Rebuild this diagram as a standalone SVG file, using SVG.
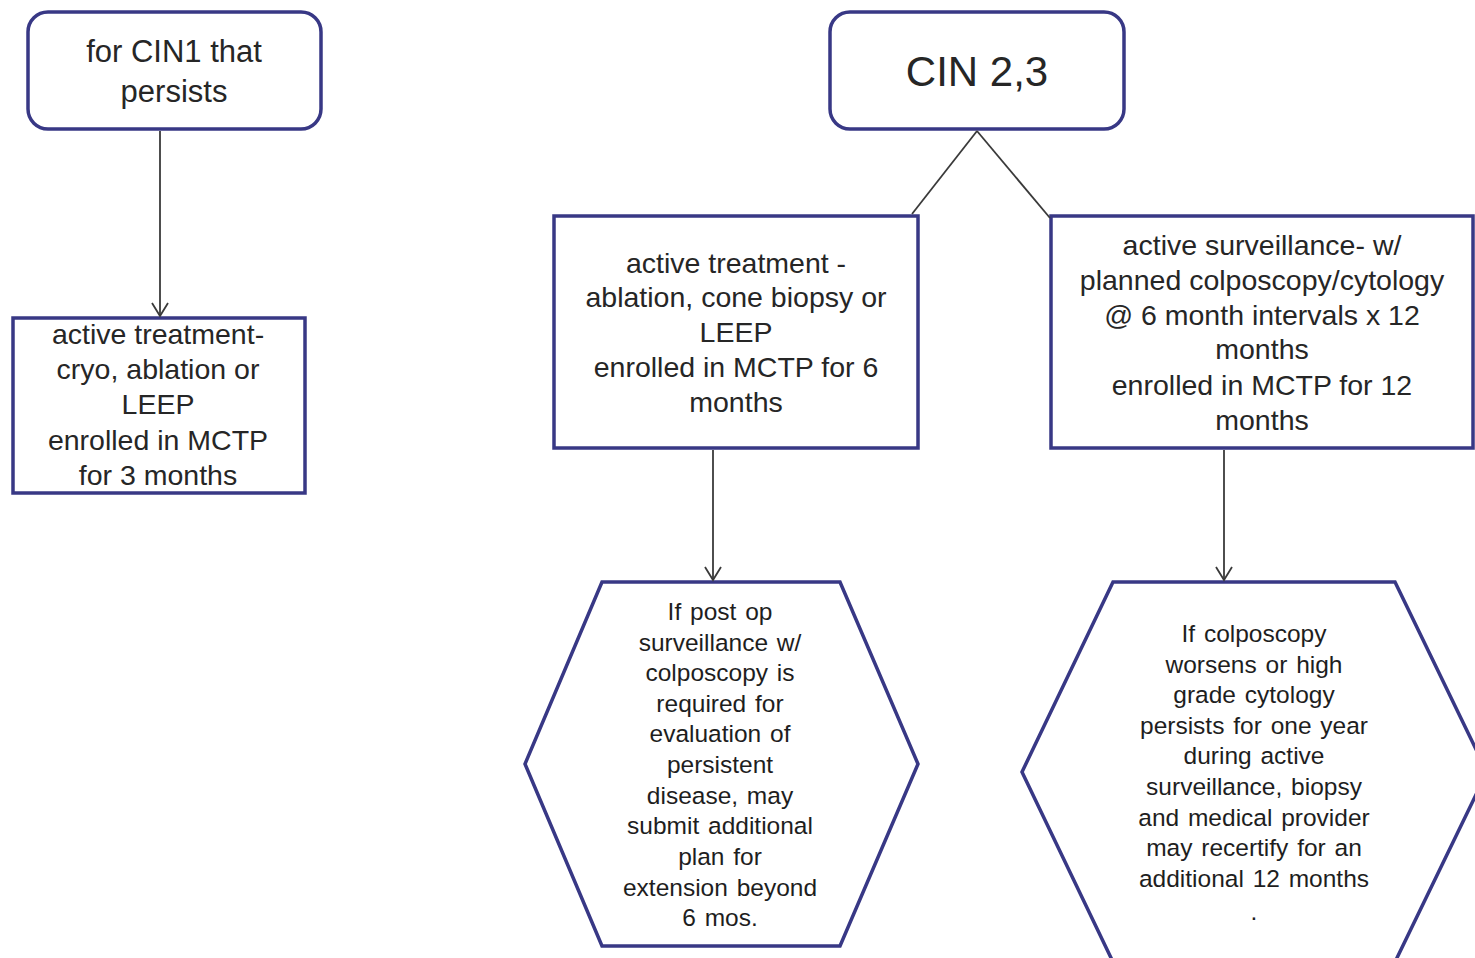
<svg xmlns="http://www.w3.org/2000/svg" width="1475" height="958" viewBox="0 0 1475 958">
<defs>
<style>
.node{fill:#ffffff;stroke:#383885;stroke-width:3.5;stroke-linejoin:miter}
.t{font-family:"Liberation Sans",Arial,sans-serif;fill:#262626;text-anchor:middle}
.t28{font-size:28.5px}
.t30{font-size:31px}
.t42{font-size:42px}
.t25{font-size:24.5px;word-spacing:2px;fill:#1e1e1e}
.conn{stroke:#3a3a3a;stroke-width:1.8;fill:none}
</style>
<marker id="arr" markerWidth="18" markerHeight="20" refX="15" refY="10" orient="auto" markerUnits="userSpaceOnUse" viewBox="0 0 18 20">
<path d="M2,2 L15,10 L2,18" fill="none" stroke="#3a3a3a" stroke-width="1.8"/>
</marker>
</defs>
<rect width="1475" height="958" fill="#ffffff"/>
<g id="cin1">
<rect class="node" x="28" y="12" width="293" height="117" rx="20" ry="20"/>
<text class="t t30" x="174" y="62">for CIN1 that</text>
<text class="t t30" x="174" y="102">persists</text>
</g>
<g id="cin23">
<rect class="node" x="830" y="12" width="294" height="117" rx="20" ry="20"/>
<text class="t t42" x="977" y="86">CIN 2,3</text>
</g>
<g id="cin1-treatment">
<rect class="node" x="13" y="318" width="292" height="175"/>
<text class="t t28" x="158" y="344">active treatment-</text>
<text class="t t28" x="158" y="379">cryo, ablation or</text>
<text class="t t28" x="158" y="414">LEEP</text>
<text class="t t28" x="158" y="450">enrolled in MCTP</text>
<text class="t t28" x="158" y="485">for 3 months</text>
</g>
<g id="active-treatment">
<rect class="node" x="554" y="216" width="364" height="232"/>
<text class="t t28" x="736" y="273">active treatment -</text>
<text class="t t28" x="736" y="307">ablation, cone biopsy or</text>
<text class="t t28" x="736" y="342">LEEP</text>
<text class="t t28" x="736" y="377">enrolled in MCTP for 6</text>
<text class="t t28" x="736" y="412">months</text>
</g>
<g id="active-surveillance">
<rect class="node" x="1051" y="216" width="422" height="232"/>
<text class="t t28" x="1262" y="255">active surveillance- w/</text>
<text class="t t28" x="1262" y="290">planned colposcopy/cytology</text>
<text class="t t28" x="1262" y="325">@ 6 month intervals x 12</text>
<text class="t t28" x="1262" y="359">months</text>
<text class="t t28" x="1262" y="395">enrolled in MCTP for 12</text>
<text class="t t28" x="1262" y="430">months</text>
</g>
<g id="post-op">
<polygon class="node" points="602,582 840,582 918,764 840,946 602,946 525,764"/>
<text class="t t25" x="720" y="620">If post op</text>
<text class="t t25" x="720" y="651">surveillance  w/</text>
<text class="t t25" x="720" y="681">colposcopy is</text>
<text class="t t25" x="720" y="712">required  for</text>
<text class="t t25" x="720" y="742">evaluation  of</text>
<text class="t t25" x="720" y="773">persistent</text>
<text class="t t25" x="720" y="804">disease, may</text>
<text class="t t25" x="720" y="834">submit additional</text>
<text class="t t25" x="720" y="865">plan  for</text>
<text class="t t25" x="720" y="896">extension  beyond</text>
<text class="t t25" x="720" y="926">6 mos.</text>
</g>
<g id="recertify">
<polygon class="node" points="1113,582 1395,582 1487,772 1395,962 1113,962 1022,772"/>
<text class="t t25" x="1254" y="642">If colposcopy</text>
<text class="t t25" x="1254" y="673">worsens  or high</text>
<text class="t t25" x="1254" y="703">grade  cytology</text>
<text class="t t25" x="1254" y="734">persists  for one  year</text>
<text class="t t25" x="1254" y="764">during  active</text>
<text class="t t25" x="1254" y="795">surveillance,  biopsy</text>
<text class="t t25" x="1254" y="826">and  medical provider</text>
<text class="t t25" x="1254" y="856">may recertify for an</text>
<text class="t t25" x="1254" y="887">additional  12 months</text>
<text class="t t25" x="1254" y="920">.</text>
</g>
<g id="connectors">
<line class="conn" x1="160" y1="131" x2="160" y2="316" marker-end="url(#arr)"/>
<line class="conn" x1="977" y1="131" x2="912" y2="214"/>
<line class="conn" x1="977" y1="131" x2="1050" y2="218"/>
<line class="conn" x1="713" y1="450" x2="713" y2="580" marker-end="url(#arr)"/>
<line class="conn" x1="1224" y1="450" x2="1224" y2="580" marker-end="url(#arr)"/>
</g>
</svg>
